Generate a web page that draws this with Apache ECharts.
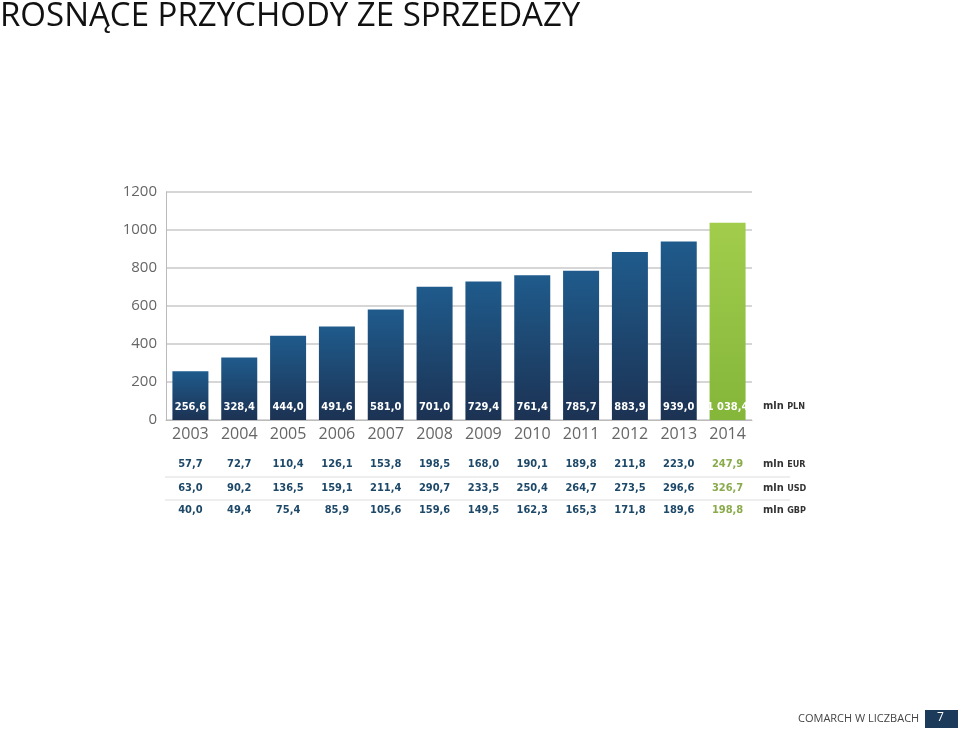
<!DOCTYPE html><html><head><meta charset="utf-8"><script src="https://cdn.jsdelivr.net/npm/echarts@6/dist/echarts.min.js"></script>
<style>body{margin:0;background:#fff}#c{width:960px;height:729px}</style></head><body><div id="c"></div><script>
const years=['2003','2004','2005','2006','2007','2008','2009','2010','2011','2012','2013','2014'];
const pln=[256.6,328.4,444.0,491.6,581.0,701.0,729.4,761.4,785.7,883.9,939.0,1038.4];
const eur=['57,7','72,7','110,4','126,1','153,8','198,5','168,0','190,1','189,8','211,8','223,0','247,9'];
const usd=['63,0','90,2','136,5','159,1','211,4','290,7','233,5','250,4','264,7','273,5','296,6','326,7'];
const gbp=['40,0','49,4','75,4','85,9','105,6','159,6','149,5','162,3','165,3','171,8','189,6','198,8'];
const yTicks=[0,200,400,600,800,1000,1200];
const FC='DejaVu Sans Condensed';
const fmt=v=>{let s=v.toFixed(1).replace('.',',');if(v>=1000){s=s.slice(0,1)+' '+s.slice(1);}return s;};
const blue={type:'linear',x:0,y:0,x2:0,y2:1,colorStops:[{offset:0,color:'#1f5b8c'},{offset:1,color:'#1c3253'}]};
const green={type:'linear',x:0,y:0,x2:0,y2:1,colorStops:[{offset:0,color:'#a2cd4c'},{offset:1,color:'#84b63a'}]};
const tbl=(arr,off)=>({type:'category',data:years,position:'bottom',offset:off,gridIndex:0,
 axisLine:{show:false},axisTick:{show:false},
 axisLabel:{margin:0,interval:0,fontSize:11,fontWeight:'bold',fontFamily:FC,
  formatter:(v,i)=>'{'+(i===11?'g':'b')+'|'+arr[i]+'}',
  rich:{b:{color:'#1d4868',fontSize:11,fontWeight:'bold',fontFamily:FC},g:{color:'#8aab4c',fontSize:11,fontWeight:'bold',fontFamily:FC}}}});
const c=echarts.init(document.getElementById('c'));
const unitTxt=(u,y)=>({type:'text',left:763,top:y,style:{rich:{a:{fontSize:11,fontWeight:'bold',fill:'#333',fontFamily:FC},b:{fontSize:9,fontWeight:'bold',fill:'#333',fontFamily:FC}},text:'{a|mln }{b|'+u+'}'}});
c.setOption({
 animation:false,
 grid:{left:166,right:208,top:192,bottom:309},
 xAxis:[{type:'category',data:years,axisLine:{lineStyle:{color:'#bbb'}},axisTick:{show:false},
   axisLabel:{margin:6,fontSize:16,color:'#666',fontFamily:'Open Sans'}},
   tbl(eur,39),tbl(usd,63),tbl(gbp,85)],
 yAxis:{type:'value',min:0,max:1200,interval:200,axisLine:{show:true,lineStyle:{color:'#bbb'}},axisTick:{show:false},
   splitLine:{lineStyle:{color:'#c8c8c8',width:1.5}},axisLabel:{fontSize:15,color:'#666',margin:9,fontFamily:'Open Sans',formatter:v=>yTicks.includes(v)?String(v):''}},
 series:[{type:'bar',data:pln.map((v,i)=>({value:v,itemStyle:{color:i===11?green:blue}})),barWidth:36,
   label:{show:true,position:'insideBottom',distance:7,color:'#fff',fontSize:11,fontWeight:'bold',fontFamily:FC,formatter:p=>fmt(p.value)}}],
 graphic:[
  {type:'text',left:0,top:0,style:{text:'ROSNĄCE PRZYCHODY ZE SPRZEDAŻY',fontSize:33,fill:'#111',fontFamily:'Open Sans'}},
  {type:'line',shape:{x1:165,y1:477,x2:790,y2:477},style:{stroke:'#ddd',lineWidth:1}},
  {type:'line',shape:{x1:165,y1:500,x2:790,y2:500},style:{stroke:'#ddd',lineWidth:1}},
  unitTxt('PLN',401),unitTxt('EUR',459),unitTxt('USD',483),unitTxt('GBP',505),
  {type:'text',left:798,top:713,style:{text:'COMARCH W LICZBACH',fontSize:11,fill:'#444',fontFamily:'Open Sans'}},
  {type:'rect',shape:{x:925,y:710,width:33,height:18},style:{fill:'#1c3a5a'}},
  {type:'text',left:937,top:712,style:{text:'7',fontSize:12,fill:'#fff',fontFamily:'Open Sans'}}
 ]
});
</script></body></html>
